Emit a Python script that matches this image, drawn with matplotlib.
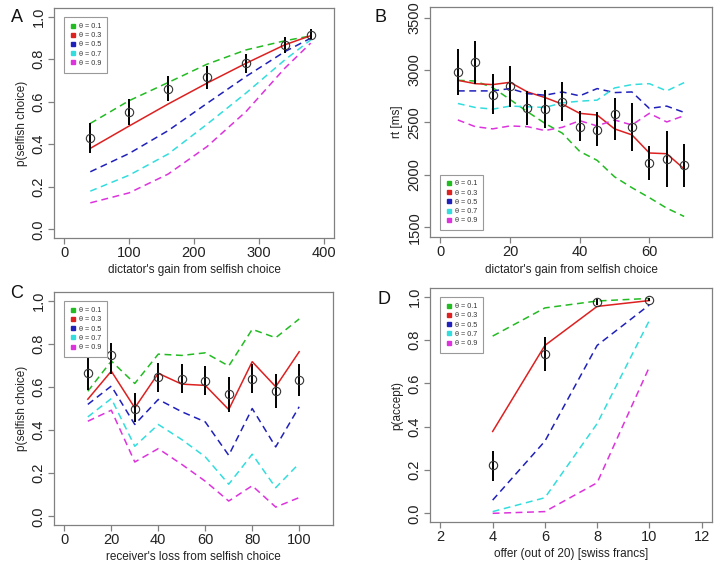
import matplotlib
matplotlib.use("Agg")
import matplotlib.pyplot as plt
from matplotlib.lines import Line2D

plt.rcParams["font.family"] = ["Liberation Sans", "DejaVu Sans"]

# theta levels and colours
thetas = ["0.1", "0.3", "0.5", "0.7", "0.9"]
colors = ["#22bb22", "#dd2020", "#2020bb", "#33dddd", "#dd33dd"]

# ---- panel A: dictator game, choice ----
a_x = [40, 100, 160, 220, 280, 340, 380]
a_obs = [0.43, 0.55, 0.66, 0.715, 0.78, 0.865, 0.915]
a_lo = [0.36, 0.49, 0.605, 0.66, 0.735, 0.83, 0.895]
a_hi = [0.50, 0.615, 0.72, 0.77, 0.825, 0.905, 0.94]
a_fit = [
    [0.498, 0.605, 0.69, 0.776, 0.843, 0.886, 0.909],
    [0.381, 0.486, 0.589, 0.687, 0.78, 0.867, 0.91],
    [0.271, 0.357, 0.464, 0.592, 0.718, 0.835, 0.898],
    [0.18, 0.255, 0.354, 0.494, 0.64, 0.796, 0.89],
    [0.125, 0.172, 0.26, 0.389, 0.553, 0.757, 0.875],
]

# ---- panel B: dictator game, response time ----
b_x = [5, 10, 15, 20, 25, 30, 35, 40, 45, 50, 55, 60, 65, 70]
b_obs = [2980, 3072, 2766, 2845, 2634, 2627, 2697, 2460, 2429, 2580, 2454, 2114, 2152, 2092]
b_lo = [2760, 2864, 2580, 2650, 2476, 2445, 2514, 2319, 2272, 2334, 2224, 1950, 1884, 1887]
b_hi = [3201, 3280, 2958, 3034, 2797, 2807, 2883, 2612, 2596, 2738, 2681, 2278, 2423, 2297]
b_fit = [
    [2902, 2895, 2832, 2719, 2602, 2492, 2398, 2224, 2139, 1982, 1878, 1783, 1683, 1604],
    [2902, 2870, 2861, 2883, 2791, 2738, 2675, 2587, 2571, 2439, 2382, 2209, 2202, 2057],
    [2801, 2801, 2801, 2823, 2775, 2760, 2791, 2754, 2823, 2785, 2791, 2634, 2656, 2596],
    [2681, 2643, 2627, 2656, 2650, 2643, 2687, 2703, 2713, 2829, 2861, 2870, 2801, 2880],
    [2524, 2460, 2439, 2467, 2460, 2423, 2454, 2517, 2467, 2524, 2476, 2587, 2505, 2565],
]

# ---- panel C: receiver's loss ----
c_x = [10, 20, 30, 40, 50, 60, 70, 80, 90, 100]
c_obs = [0.666, 0.748, 0.50, 0.644, 0.639, 0.628, 0.567, 0.639, 0.582, 0.632]
c_lo = [0.585, 0.659, 0.438, 0.577, 0.573, 0.562, 0.485, 0.57, 0.503, 0.559]
c_hi = [0.76, 0.805, 0.574, 0.709, 0.706, 0.697, 0.644, 0.706, 0.659, 0.706]
c_fit = [
    [0.58, 0.72, 0.616, 0.752, 0.746, 0.758, 0.697, 0.867, 0.828, 0.915],
    [0.543, 0.673, 0.503, 0.663, 0.613, 0.607, 0.495, 0.717, 0.601, 0.763],
    [0.519, 0.604, 0.426, 0.542, 0.485, 0.438, 0.283, 0.50, 0.322, 0.508],
    [0.461, 0.546, 0.325, 0.426, 0.356, 0.276, 0.149, 0.288, 0.133, 0.245],
    [0.441, 0.492, 0.252, 0.314, 0.241, 0.163, 0.071, 0.142, 0.043, 0.087],
]

# ---- panel D: ultimatum game ----
d_x = [4, 6, 8, 10]
d_obs = [0.221, 0.735, 0.975, 0.985]
d_lo = [0.149, 0.655, 0.96, 0.978]
d_hi = [0.287, 0.812, 0.99, 0.995]
d_fit = [
    [0.818, 0.948, 0.98, 0.992],
    [0.378, 0.775, 0.955, 0.982],
    [0.061, 0.333, 0.775, 0.962],
    [0.008, 0.072, 0.414, 0.89],
    [0.0, 0.008, 0.141, 0.675],
]

W, H = 715, 564
fig = plt.figure(figsize=(W / 100, H / 100), dpi=100)
fig.patch.set_facecolor("white")


def make_ax(left, top, right, bottom):
    return fig.add_axes([left / W, 1 - bottom / H, (right - left) / W, (bottom - top) / H])


def style(ax, xlim, ylim, xticks, yticks, yfmt, xlabel, ylabel):
    ax.set_xlim(*xlim)
    ax.set_ylim(*ylim)
    ax.set_xticks(xticks)
    ax.set_yticks(yticks)
    ax.set_yticklabels([yfmt.format(v) for v in yticks], rotation=90, va="center")
    for sp in ax.spines.values():
        sp.set_edgecolor("#808080")
        sp.set_linewidth(0.9)
    ax.tick_params(colors="#808080", labelcolor="#222222", length=4, width=0.9,
                   labelsize=10.5, pad=2)
    ax.set_xlabel(xlabel, fontsize=8.5, color="#222222", labelpad=3)
    ax.set_ylabel(ylabel, fontsize=8.5, color="#222222", labelpad=3)


def draw(ax, x, obs, lo, hi, fits):
    for i, fit in enumerate(fits):
        if i == 1:
            ax.plot(x, fit, color=colors[i], lw=1.1, zorder=2)
        else:
            ax.plot(x, fit, color=colors[i], lw=1.1, dashes=(4.5, 3), zorder=2)
    ax.vlines(x, lo, hi, color="black", lw=1.4, zorder=3)
    ax.plot(x, obs, "o", mfc="none", mec="#333333", mew=0.8, ms=6, zorder=4)


def legend(ax, loc, anchor):
    handles = [Line2D([], [], ls="none", marker="s", ms=2.3, color=c) for c in colors]
    labels = [f"\u03b8 = {t}" for t in thetas]
    lg = ax.legend(handles, labels, loc=loc, bbox_to_anchor=anchor, fontsize=5.2,
                   frameon=True, fancybox=False, framealpha=1, handlelength=0.7,
                   handletextpad=0.5, labelspacing=0.3, borderpad=0.8, borderaxespad=0)
    lg.get_frame().set_edgecolor("#999999")
    lg.get_frame().set_linewidth(0.8)
    lg.set_zorder(5)
    for t in lg.get_texts():
        t.set_color("#333333")


ylab_p = "p(selfish choice)"

axA = make_ax(54, 8, 334, 238)
draw(axA, a_x, a_obs, a_lo, a_hi, a_fit)
style(axA, (-16, 416), (-0.04, 1.04), [0, 100, 200, 300, 400],
      [0.0, 0.2, 0.4, 0.6, 0.8, 1.0], "{:.1f}",
      "dictator's gain from selfish choice", ylab_p)
legend(axA, "upper left", (0.037, 0.96))

axB = make_ax(430, 7, 712, 237)
draw(axB, b_x, b_obs, b_lo, b_hi, b_fit)
style(axB, (-3, 78), (1408, 3601), [0, 20, 40, 60],
      [1500, 2000, 2500, 3000, 3500], "{:d}",
      "dictator's gain from selfish choice", "rt [ms]")
legend(axB, "lower left", (0.037, 0.03))

axC = make_ax(54, 292, 333, 525)
draw(axC, c_x, c_obs, c_lo, c_hi, c_fit)
style(axC, (-4.4, 114.4), (-0.04, 1.04), [0, 20, 40, 60, 80, 100],
      [0.0, 0.2, 0.4, 0.6, 0.8, 1.0], "{:.1f}",
      "receiver's loss from selfish choice", ylab_p)
legend(axC, "upper left", (0.037, 0.96))

axD = make_ax(430, 288, 712, 522)
draw(axD, d_x, d_obs, d_lo, d_hi, d_fit)
style(axD, (1.6, 12.4), (-0.04, 1.04), [2, 4, 6, 8, 10, 12],
      [0.0, 0.2, 0.4, 0.6, 0.8, 1.0], "{:.1f}",
      "offer (out of 20) [swiss francs]", "p(accept)")
legend(axD, "upper left", (0.037, 0.96))

for lab, (px, py) in zip("ABCD", [(17, 17), (381, 17), (17, 294), (384, 300)]):
    fig.text(px / W, 1 - py / H, lab, fontsize=13, ha="center", va="center", color="#111111")

fig.savefig("out.png", dpi=100, facecolor="white")
